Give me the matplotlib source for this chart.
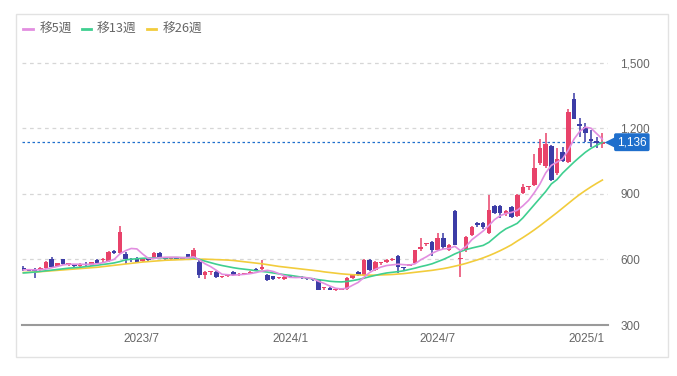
import numpy as np
import pandas as pd
import matplotlib
matplotlib.use("Agg")
import matplotlib.pyplot as plt
import matplotlib.dates as mdates
import matplotlib.transforms as mtransforms
from matplotlib.lines import Line2D
from matplotlib.patches import Rectangle

# weekly candles, first week starting 2023-02-06
start_week = "2023-02-06"

opens = [562, 552, 555, 550, 562, 601, 572, 600, 573, 575,
         570, 578, 576, 598, 595, 592, 640, 630, 626, 600,
         606, 592, 600, 605, 628, 606, 600, 606, 603, 623,
         612, 590, 529, 544, 544, 520, 522, 544, 530, 532,
         536, 558, 555, 529, 522, 514, 512, 520, 518, 519,
         514, 514, 506, 468, 470, 460, 462, 464, 514, 544,
         530, 597, 552, 582, 586, 598, 615, 562, 572, 582,
         647, 672, 681, 643, 697, 643, 822, 600, 643, 712,
         767, 765, 722, 846, 846, 806, 840, 800, 902, 933,
         940, 1039, 1028, 1120, 995, 1090, 1047, 1335, 1215, 1205,
         1150, 1140, 1130]
highs = [568, 556, 560, 565, 592, 610, 584, 604, 585, 578,
         583, 586, 590, 602, 606, 640, 645, 752, 632, 606,
         610, 602, 606, 632, 632, 610, 610, 612, 612, 626,
         652, 595, 548, 548, 548, 526, 532, 548, 536, 538,
         548, 562, 597, 535, 526, 520, 524, 526, 524, 524,
         518, 516, 510, 474, 472, 466, 470, 520, 532, 548,
         600, 600, 592, 590, 600, 605, 620, 566, 580, 645,
         700, 676, 684, 722, 720, 672, 824, 640, 706, 752,
         770, 770, 894, 850, 850, 826, 845, 900, 945, 938,
         1080, 1150, 1180, 1125, 1110, 1112, 1290, 1360, 1245, 1225,
         1190, 1160, 1180]
lows = [548, 545, 513, 546, 558, 562, 568, 574, 570, 565,
        566, 572, 572, 582, 590, 588, 624, 626, 580, 590,
        586, 588, 594, 600, 608, 598, 597, 600, 600, 610,
        608, 517, 510, 528, 515, 516, 518, 526, 525, 528,
        532, 545, 550, 503, 508, 510, 508, 515, 514, 512,
        505, 500, 458, 462, 458, 455, 458, 460, 510, 526,
        526, 548, 548, 576, 582, 594, 540, 548, 568, 578,
        640, 660, 615, 640, 648, 638, 664, 521, 636, 706,
        750, 740, 716, 808, 790, 800, 790, 795, 898, 918,
        935, 1030, 1020, 960, 985, 1045, 1040, 1240, 1160, 1135,
        1115, 1110, 1108]
closes = [552, 549, 548, 560, 587, 566, 582, 578, 582, 568,
          580, 575, 586, 585, 602, 636, 628, 727, 602, 596,
          590, 600, 598, 628, 613, 603, 607, 604, 610, 613,
          643, 529, 544, 545, 518, 523, 530, 529, 533, 535,
          544, 553, 567, 506, 512, 516, 521, 518, 520, 516,
          510, 504, 462, 470, 462, 462, 466, 514, 529, 530,
          595, 552, 586, 585, 598, 603, 565, 560, 576, 643,
          658, 674, 643, 697, 655, 668, 666, 606, 704, 750,
          756, 748, 826, 811, 811, 822, 796, 894, 933, 935,
          1020, 1108, 1128, 963, 1060, 1050, 1275, 1240, 1212, 1177,
          1142, 1132, 1136]

ma5 = [552, 553, 552, 553, 556, 562, 568, 575, 578, 578,
       578, 577, 578, 580, 585, 592, 600, 625, 640, 650,
       648, 625, 605, 604, 608, 610, 610, 610, 608, 608,
       612, 598, 580, 567, 550, 532, 530, 528, 530, 532,
       535, 540, 546, 550, 545, 535, 525, 518, 517, 518,
       516, 512, 500, 490, 478, 468, 465, 468, 482, 495,
       518, 540, 555, 565, 572, 575, 578, 576, 574, 580,
       598, 612, 628, 640, 648, 650, 660, 640, 660, 690,
       710, 730, 755, 782, 800, 810, 815, 825, 845, 870,
       905, 945, 995, 1030, 1045, 1060, 1100, 1150, 1185, 1205,
       1200, 1175, 1150]
ma13 = [538, 540, 542, 545, 548, 551, 554, 557, 560, 562,
        564, 567, 570, 573, 577, 580, 584, 590, 598, 601,
        603, 605, 606, 607, 607, 607, 608, 608, 608, 608,
        607, 600, 592, 585, 578, 572, 567, 562, 558, 555,
        552, 548, 545, 542, 538, 534, 530, 527, 523, 519,
        515, 511, 507, 504, 500, 498, 497, 499, 503, 508,
        514, 521, 527, 533, 538, 541, 544, 548, 554, 560,
        567, 573, 580, 590, 600, 612, 625, 636, 645, 652,
        658, 664, 678, 700, 722, 740, 752, 765, 790, 820,
        850, 880, 910, 945, 965, 995, 1020, 1045, 1068, 1090,
        1108, 1122, 1135]
ma26 = [540, 541, 542, 544, 546, 548, 550, 552, 554, 556,
        558, 560, 562, 564, 567, 570, 573, 576, 579, 582,
        585, 588, 590, 592, 594, 596, 597, 598, 599, 600,
        601, 601, 601, 600, 599, 598, 597, 595, 592, 589,
        586, 583, 580, 576, 572, 568, 565, 562, 559, 556,
        553, 550, 547, 543, 540, 537, 534, 532, 530, 529,
        528, 528, 528, 529, 530, 531, 533, 535, 538, 541,
        544, 547, 550, 554, 558, 563, 569, 575, 582, 590,
        598, 607, 617, 628, 640, 653, 667, 684, 700, 717,
        735, 754, 774, 794, 814, 835, 856, 877, 897, 915,
        932, 948, 963]

last_price = 1136
y_ticks = [300, 600, 900, 1200, 1500]
y_labels = ["300", "600", "900", "1,200", "1,500"]
x_ticks = ["2023-07-01", "2024-01-01", "2024-07-01", "2025-01-01"]
x_labels = ["2023/7", "2024/1", "2024/7", "2025/1"]
legend_labels = ["移5週", "移13週", "移26週"]

RED = "#e8426a"
BLUE = "#3c3ca6"
PINK = "#e28ee0"
GREEN = "#3fcf90"
YELLOW = "#f2cc3c"
BADGE = "#1f6fcc"

fig = plt.figure(figsize=(6.77, 3.76), dpi=100)
fig.patches.append(Rectangle((16 / 677, 1 - 357 / 376), 652 / 677, 343 / 376,
                             transform=fig.transFigure, fill=False,
                             ec="#e2e2e2", lw=1))
ax = fig.add_axes([22 / 677, 51 / 376, 586 / 677, 275.5 / 376])

weeks = pd.date_range(start_week, periods=len(closes), freq="7D")
x = mdates.date2num(weeks)
o = np.array(opens)
c = np.array(closes)
col = np.where(c >= o, RED, BLUE)
body = np.maximum(np.abs(c - o), 5)
ax.vlines(x, lows, highs, color=col, lw=1.1, zorder=3)
ax.bar(x, body, bottom=np.minimum(o, c), width=5.6, color=col, zorder=4)

ax.plot(x, ma26, color=YELLOW, lw=1.2, zorder=5)
ax.plot(x, ma13, color=GREEN, lw=1.2, zorder=5)
ax.plot(x, ma5, color=PINK, lw=1.2, zorder=6)

for y in y_ticks[1:]:
    ax.axhline(y, color="#d6d6d6", lw=0.9, ls=(0, (3, 3)), zorder=0)
ax.axhline(last_price, color=BADGE, lw=0.9, ls=(0, (2, 2)), zorder=2)

ax.set_ylim(300, 1560)
ax.set_xlim(mdates.date2num(pd.Timestamp("2023-02-04 08:00")),
            mdates.date2num(pd.Timestamp("2025-01-26 22:00")))
for s in ["top", "left", "right"]:
    ax.spines[s].set_visible(False)
ax.spines["bottom"].set_color("#9a9a9a")
ax.spines["bottom"].set_linewidth(1.5)

ax.set_yticks(y_ticks)
ax.set_yticklabels(y_labels, fontfamily="Liberation Sans")
ax.yaxis.tick_right()
ax.tick_params(axis="y", length=0, pad=9, labelcolor="#666666", labelsize=8.5)
ax.set_xticks(mdates.date2num(pd.to_datetime(x_ticks)))
ax.set_xticklabels(x_labels, fontfamily="Liberation Sans")
ax.tick_params(axis="x", length=0, pad=6, labelcolor="#666666", labelsize=8.5)

# last price badge
tr = mtransforms.blended_transform_factory(ax.transAxes, ax.transData)
ax.plot([1.0034], [last_price], marker="<", ms=8, color=BADGE, mec="none",
        transform=tr, clip_on=False, zorder=7)
ax.text(1.0154, last_price, f"{last_price:,}", transform=tr, ha="left",
        va="center", color="white", fontsize=8.5, fontfamily="Liberation Sans",
        bbox=dict(boxstyle="round,pad=0.25,rounding_size=0.15", fc=BADGE, ec="none"),
        clip_on=False, zorder=8)

# legend
leg_y = 1 - 29 / 376
for (x0, x1, tx), lab, colr in zip([(23, 33, 40), (82, 91, 97), (147, 156, 163)],
                                   legend_labels, [PINK, GREEN, YELLOW]):
    fig.add_artist(Line2D([x0 / 677, x1 / 677], [leg_y, leg_y], color=colr, lw=2,
                          transform=fig.transFigure))
    fig.text(tx / 677, leg_y, lab, ha="left", va="center", color="#666666",
             fontsize=9.2, fontfamily=["Noto Sans CJK JP", "DejaVu Sans"])

fig.savefig("out.png", dpi=100)
